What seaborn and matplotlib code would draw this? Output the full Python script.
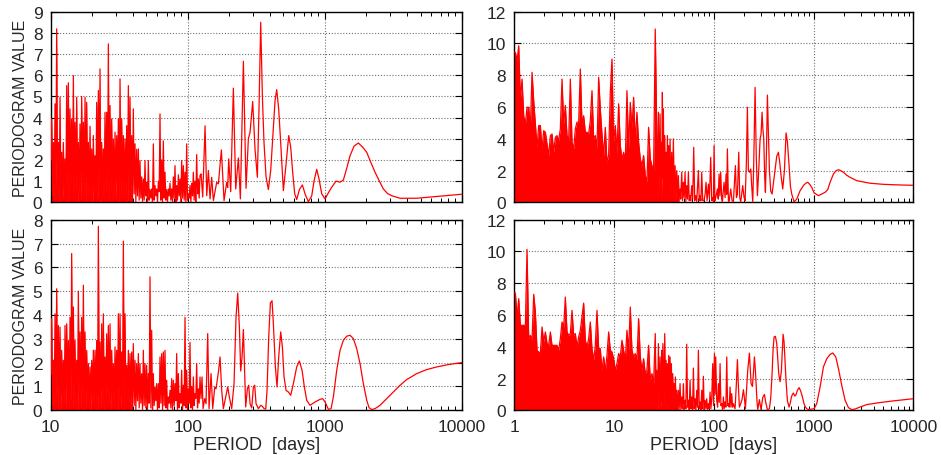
import matplotlib
matplotlib.use("Agg")
import matplotlib.pyplot as plt
import seaborn as sns
from matplotlib.ticker import FixedLocator, NullFormatter, LogLocator

# ---------------- data ----------------
# shared period grid for the dense part of the left panels (days)
left_dense_period = [
    10.02, 10.16, 10.31, 10.45, 10.60, 10.75, 10.90, 11.05, 11.21, 11.37,
    11.53, 11.69, 11.86, 12.02, 12.19, 12.36, 12.54, 12.72, 12.89, 13.08,
    13.26, 13.45, 13.64, 13.83, 14.02, 14.22, 14.42, 14.63, 14.83, 15.04,
    15.25, 15.47, 15.69, 15.91, 16.13, 16.36, 16.59, 16.82, 17.06, 17.31,
    17.55, 17.80, 18.05, 18.30, 18.56, 18.82, 19.09, 19.36, 19.63, 19.91,
    20.19, 20.47, 20.76, 21.05, 21.35, 21.65, 21.96, 22.27, 22.58, 22.90,
    23.22, 23.55, 23.88, 24.22, 24.56, 24.90, 25.25, 25.61, 25.97, 26.34,
    26.71, 27.09, 27.47, 27.86, 28.25, 28.65, 29.05, 29.46, 29.87, 30.30,
    30.73, 31.16, 31.60, 32.05, 32.50, 32.96, 33.42, 33.89, 34.37, 34.86,
    35.35, 35.85, 36.35, 36.86, 37.38, 37.91, 38.44, 38.99, 39.53, 40.09,
    40.66, 41.23, 41.81, 42.40, 43.00, 43.61, 44.22, 44.84, 45.48, 46.12,
    46.77, 47.43, 48.10, 48.77, 49.46, 50.16, 50.86, 51.58, 52.31, 53.06,
    53.81, 54.57, 55.33, 56.11, 56.90, 57.71, 58.52, 59.35, 60.18, 61.03,
    61.89, 62.76, 63.65, 64.55, 65.46, 66.38, 67.31, 68.26, 69.23, 70.20,
    71.19, 72.20, 73.21, 74.25, 75.29, 76.35, 77.43, 78.52, 79.63, 80.75,
    81.89, 83.04, 84.21, 85.40, 86.61, 87.83, 89.07, 90.32, 91.59, 92.90,
    94.21, 95.54, 96.89, 98.26, 99.64, 101.0, 102.5, 103.9, 105.4, 106.9,
    108.4, 109.9, 111.4, 113.0, 114.6, 116.2, 117.9, 119.5, 121.2, 122.9,
]

tl_dense_trough = [
    2.0, 0.3, 0.1, 0.5, 0.2, 0.0, 0.4, 0.1, 0.6, 0.2,
    0.0, 0.3, 0.8, 0.1, 0.2, 0.5, 0.0, 0.3, 0.1, 0.7,
    0.2, 0.0, 0.4, 0.1, 0.3, 0.0, 0.5, 0.2, 0.1, 0.6,
    0.0, 0.3, 0.2, 0.4, 0.1, 0.0, 0.5, 0.2, 0.3, 0.1,
    0.8, 0.0, 0.2, 0.4, 0.1, 0.3, 0.0, 0.6, 0.2, 0.1,
    0.4, 0.0, 0.3, 0.1, 0.2, 0.0, 0.1, 0.3, 0.0, 0.1,
    0.2, 0.0, 0.1, 0.3, 0.0, 0.5, 0.1, 0.0, 0.2, 0.1,
    0.0, 0.3, 0.1, 0.0, 0.2, 0.0, 0.1, 0.3, 0.0, 0.2,
    0.1, 0.0, 0.1, 0.2, 0.0, 0.3, 0.1, 0.0, 0.4, 0.2,
]
tl_dense_peak = [
    3.94, 2.83, 4.65, 8.19, 2.83, 4.96, 2.36, 2.83, 2.05, 5.51,
    5.64, 4.41, 3.94, 5.98, 3.78, 4.96, 2.83, 3.70, 5.00, 3.78,
    4.96, 4.72, 2.83, 3.59, 2.52, 3.15, 2.20, 4.72, 5.28, 6.30,
    2.83, 2.52, 4.25, 4.25, 7.48, 4.57, 3.94, 2.99, 3.31, 3.15,
    3.94, 5.83, 3.94, 3.15, 3.00, 3.62, 5.51, 4.96, 3.15, 4.41,
    2.76, 2.50, 2.52, 1.97, 1.20, 1.10, 1.97, 0.94, 1.97, 0.60,
    0.63, 2.76, 0.79, 0.63, 1.00, 4.17, 2.00, 2.90, 1.42, 0.60,
    0.63, 0.90, 0.63, 1.20, 1.73, 0.79, 1.30, 1.10, 1.97, 1.73,
    1.42, 2.76, 0.39, 0.80, 0.90, 1.42, 1.00, 2.25, 1.10, 1.26,
]
tl_tail_period = [
    125.1, 128.6, 133.8, 137.6, 141.5, 145.5, 149.6, 153.9, 162.7, 167.4,
    176.0, 184.1, 192.5, 195.8, 199.1, 205.9, 215.3, 224.0, 234.2, 242.2,
    254.8, 266.4, 277.1, 285.0, 298.0, 309.9, 322.3, 331.5, 340.9, 350.6,
    360.5, 372.9, 387.8, 403.3, 421.8, 433.8, 446.1, 461.3, 477.1, 499.0,
    521.9, 545.8, 564.4, 583.7, 603.6, 624.2, 652.9, 686.7, 722.2, 759.6,
    803.3, 835.4, 873.7, 908.6, 950.3, 1005, 1063, 1124, 1209, 1293,
    1368, 1446, 1530, 1636, 1760, 1893, 2025, 2165, 2329, 2505,
    2679, 2865, 3081, 3545, 4690, 6207, 10000,
]
tl_tail_power = [
    1.34, 0.25, 3.61, 0.31, 1.50, 0.16, 1.18, 0.08, 0.94, 0.87,
    2.47, 0.08, 0.94, 0.70, 2.05, 0.50, 5.39, 0.63, 2.09, 0.16,
    6.66, 0.66, 3.00, 3.31, 4.76, 2.50, 1.18, 4.50, 8.50, 5.00,
    2.80, 1.20, 0.60, 1.50, 3.50, 4.80, 5.32, 4.40, 2.80, 0.55,
    1.80, 3.15, 2.60, 1.40, 0.40, 0.13, 0.60, 0.82, 0.35, 0.03,
    0.30, 1.00, 1.56, 1.10, 0.40, 0.16, 0.45, 0.71, 1.00, 0.95,
    1.05, 1.60, 2.20, 2.65, 2.80, 2.60, 2.36, 1.90, 1.42, 1.00,
    0.63, 0.42, 0.31, 0.19, 0.19, 0.26, 0.38,
]

bl_dense_trough = [
    1.5, 0.2, 0.0, 0.4, 0.1, 0.3, 0.0, 0.5, 0.2, 0.1,
    0.6, 0.0, 0.3, 0.1, 0.4, 0.2, 0.0, 0.7, 0.1, 0.3,
    0.0, 0.2, 0.5, 0.1, 0.0, 0.4, 0.2, 0.3, 0.0, 0.6,
    0.1, 0.2, 0.0, 0.5, 0.3, 0.1, 0.0, 0.4, 0.2, 0.6,
    0.0, 0.3, 0.1, 0.5, 0.0, 0.2, 0.4, 0.1, 0.0, 0.3,
    0.2, 0.0, 0.4, 0.1, 0.3, 0.0, 0.2, 0.1, 0.0, 0.3,
    0.1, 0.0, 0.2, 0.4, 0.0, 0.1, 0.3, 0.0, 0.2, 0.1,
    0.0, 0.3, 0.1, 0.0, 0.2, 0.4, 0.0, 0.1, 0.3, 0.0,
    0.2, 0.1, 0.0, 0.3, 0.1, 0.0, 0.2, 0.5, 0.1, 0.3,
]
bl_dense_peak = [
    3.85, 2.10, 4.05, 5.10, 3.56, 3.49, 2.52, 2.10, 3.56, 3.63,
    2.93, 3.90, 6.58, 4.34, 2.93, 2.10, 5.00, 3.29, 3.90, 5.25,
    3.29, 2.52, 1.96, 1.82, 2.10, 2.52, 2.52, 2.93, 7.72, 2.87,
    3.63, 4.05, 2.24, 3.21, 3.56, 3.63, 2.52, 1.96, 2.66, 2.52,
    4.05, 4.05, 2.45, 7.10, 4.05, 1.89, 2.52, 2.38, 2.45, 2.80,
    2.10, 1.96, 2.38, 1.96, 1.54, 2.52, 1.96, 1.89, 1.54, 5.60,
    3.36, 1.54, 0.98, 1.12, 1.12, 2.24, 2.38, 2.45, 2.52, 1.26,
    0.56, 0.84, 1.33, 1.26, 1.12, 2.38, 1.54, 0.70, 1.68, 1.05,
    3.90, 1.68, 0.90, 2.85, 1.00, 1.40, 0.70, 1.96, 0.90, 1.40,
]
bl_tail_period = [
    125.1, 127.2, 129.4, 133.0, 136.0, 139.9, 143.1, 148.0, 152.2, 157.4,
    160.9, 164.6, 168.3, 172.1, 177.0, 182.0, 189.3, 195.8, 201.3, 209.4,
    217.8, 225.2, 231.6, 238.2, 243.6, 249.1, 254.8, 260.5, 264.9, 272.5,
    278.7, 285.0, 293.1, 301.4, 308.2, 315.2, 327.8, 340.9, 350.6, 360.5,
    370.8, 379.2, 390.0, 401.1, 412.4, 421.8, 436.2, 448.6, 461.3, 477.1,
    490.7, 504.6, 521.8, 542.7, 564.4, 590.3, 624.2, 652.9, 682.9, 710.2,
    738.6, 781.1, 849.6, 924.0, 966.4, 1005, 1063, 1112, 1156, 1223,
    1293, 1368, 1446, 1530, 1618, 1711, 1810, 1914, 2025, 2106,
    2202, 2329, 2533, 2833, 3169, 3545, 3965, 4690, 5549, 6565,
    7986, 10000,
]
bl_tail_power = [
    0.49, 1.40, 0.07, 0.49, 0.28, 3.22, 0.07, 1.54, 0.07, 0.98,
    0.90, 1.30, 1.70, 2.24, 0.84, 0.07, 0.56, 0.98, 0.56, 0.07,
    1.12, 3.91, 4.92, 3.50, 1.65, 2.24, 3.39, 1.53, 0.14, 0.91,
    1.05, 0.28, 0.10, 0.98, 1.05, 0.28, 0.07, 0.21, 0.17, 0.07,
    0.05, 0.84, 3.07, 4.50, 4.60, 3.64, 1.82, 0.98, 2.24, 3.29,
    2.66, 1.40, 0.84, 0.77, 0.63, 1.12, 1.82, 2.07, 1.68, 0.98,
    0.42, 0.21, 0.35, 0.46, 0.49, 0.35, 0.04, 0.07, 0.56, 1.68,
    2.51, 2.94, 3.11, 3.15, 3.01, 2.59, 1.96, 1.12, 0.42, 0.11,
    0.03, 0.07, 0.21, 0.49, 0.77, 1.05, 1.29, 1.54, 1.71, 1.82,
    1.92, 2.00,
]

# shared period grid for the (unresolved, solid) dense part of the right panels
right_env_period = [
    1.000, 1.024, 1.064, 1.106, 1.149, 1.194, 1.241, 1.290, 1.340, 1.393,
    1.447, 1.504, 1.563, 1.624, 1.688, 1.754, 1.823, 1.894, 1.969, 2.046,
    2.126, 2.209, 2.296, 2.386, 2.479, 2.576, 2.677, 2.782, 2.891, 3.005,
    3.122, 3.245, 3.372, 3.504, 3.641, 3.784, 3.932, 4.086, 4.246, 4.413,
    4.586, 4.765, 4.952, 5.146, 5.348, 5.557, 5.775, 6.001, 6.237, 6.481,
    6.735, 6.999, 7.273, 7.558, 7.855, 8.163, 8.482, 8.815, 9.160, 9.519,
    9.892, 10.28, 10.68, 11.10, 11.54, 11.99, 12.46, 12.95, 13.45, 13.98,
    14.53, 15.10, 15.69, 16.30, 16.94, 17.61, 18.30, 19.01, 19.76, 20.53,
    21.34, 22.17, 23.04, 23.95, 24.88, 25.86,
]
tr_env_power = [
    9.44, 9.44, 8.92, 9.86, 6.50, 7.76, 5.45, 4.93, 5.98, 5.98,
    4.62, 8.18, 6.40, 4.93, 3.46, 4.83, 4.83, 3.36, 4.51, 4.41,
    3.67, 2.94, 4.20, 4.30, 3.15, 4.09, 4.20, 3.88, 4.62, 7.76,
    4.93, 6.10, 4.20, 3.88, 7.76, 3.78, 3.36, 4.62, 5.04, 5.04,
    8.39, 4.93, 5.45, 4.41, 4.41, 4.30, 5.14, 7.03, 3.99, 4.20,
    3.36, 7.87, 5.88, 4.30, 2.94, 4.72, 2.52, 2.94, 6.92, 9.02,
    3.78, 4.83, 3.00, 6.20, 3.57, 2.73, 3.15, 2.52, 7.03, 3.36,
    6.29, 4.62, 6.61, 3.78, 5.67, 3.78, 2.73, 2.31, 2.94, 1.68,
    1.26, 4.72, 2.73, 2.31, 1.99, 10.91,
]
br_env_power = [
    7.39, 7.39, 5.88, 7.03, 5.35, 5.35, 5.35, 5.35, 10.13, 4.51,
    4.72, 4.41, 7.30, 6.19, 3.78, 3.67, 3.60, 5.25, 4.30, 4.93,
    4.20, 4.09, 4.93, 4.09, 4.09, 4.09, 4.09, 3.78, 4.51, 5.56,
    5.25, 7.13, 4.93, 4.72, 4.83, 6.29, 4.72, 4.83, 3.99, 4.62,
    5.04, 5.88, 6.75, 4.41, 3.99, 4.51, 5.56, 3.88, 3.15, 4.09,
    6.29, 3.88, 3.88, 2.52, 3.36, 2.52, 3.46, 4.93, 3.78, 3.67,
    3.25, 2.52, 2.94, 3.57, 3.36, 4.41, 3.78, 3.15, 5.04, 3.78,
    6.50, 3.78, 3.36, 3.57, 3.15, 5.77, 3.36, 2.52, 3.25, 2.31,
    2.52, 4.09, 1.89, 2.31, 1.68, 4.83,
]

tr_tail_period = [
    27.37, 27.80, 28.23, 28.89, 29.33, 29.56, 30.02, 30.48, 30.84, 31.20,
    31.68, 32.17, 32.67, 33.18, 33.69, 34.22, 34.75, 35.29, 35.83, 36.39,
    36.95, 37.82, 38.40, 39.30, 39.91, 40.84, 41.47, 42.44, 43.09, 44.11,
    44.78, 45.84, 46.54, 47.64, 48.56, 49.51, 50.47, 51.45, 52.45, 53.47,
    54.52, 55.57, 56.65, 57.75, 58.65, 60.02, 61.42, 62.85, 64.32, 65.80,
    67.36, 70.00, 71.36, 72.75, 74.16, 75.60, 77.37, 79.79, 81.65, 83.55,
    85.50, 88.18, 90.24, 93.04, 95.24, 97.44, 98.98, 100.5, 102.4, 104.4,
    108.6, 110.7, 112.8, 115.0, 117.2, 120.0, 121.8, 126.6, 129.6, 132.6,
    134.7, 136.7, 140.0, 142.1, 147.7, 152.3, 157.1, 164.5, 168.4, 172.3,
    177.7, 181.8, 186.0, 194.8, 200.9, 205.6, 212.0, 216.9, 222.1, 227.3,
    234.4, 239.8, 245.5, 251.2, 259.1, 266.1, 273.4, 281.9, 290.7, 297.5,
    304.4, 310.4, 316.5, 323.8, 328.9, 336.5, 344.4, 352.4, 360.7, 372.0,
    383.6, 395.6, 411.1, 427.2, 444.0, 457.7, 472.0, 490.7, 509.9, 529.9,
    546.5, 567.9, 585.7, 604.0, 637.3, 677.9, 732.2, 790.8, 834.6, 873.9,
    922.4, 958.5, 1011, 1059, 1118, 1208, 1304, 1387, 1464, 1581,
    1682, 1775, 1873, 1992, 2151, 2323, 2710, 3160, 3686, 5015,
    7369, 10000,
]
tr_tail_power = [
    0.3, 5.67, 0.5, 5.56, 1.0, 3.78, 0.2, 6.92, 1.5, 5.88,
    0.3, 4.20, 0.2, 3.15, 0.4, 4.20, 0.1, 3.57, 0.3, 3.99,
    0.5, 3.15, 0.1, 3.99, 0.3, 2.31, 0.2, 1.99, 0.3, 1.68,
    0.1, 0.84, 0.2, 1.89, 0.1, 1.26, 0.3, 1.89, 0.05, 1.05,
    0.2, 1.89, 0.1, 0.42, 0.1, 1.05, 0.2, 3.46, 0.1, 0.42,
    0.05, 2.0, 0.1, 0.42, 0.1, 1.89, 0.1, 0.1, 0.5, 1.26,
    0.1, 1.15, 0.2, 2.83, 0.1, 0.3, 0.05, 3.57, 0.1, 0.3,
    0.84, 0.2, 1.78, 0.4, 1.89, 0.2, 0.05, 1.26, 0.3, 1.78,
    0.5, 3.36, 0.1, 0.05, 0.84, 0.1, 0.05, 2.31, 0.3, 0.5,
    3.15, 0.3, 0.02, 1.05, 0.3, 0.1, 2.5, 5.98, 2.0, 1.89,
    2.1, 1.0, 0.02, 2.5, 7.24, 3.0, 0.42, 2.0, 3.99, 4.3,
    5.67, 4.6, 3.99, 1.5, 0.63, 3.0, 6.75, 4.5, 2.0, 0.7,
    0.52, 1.2, 2.1, 2.9, 3.15, 2.5, 1.68, 0.84, 2.0, 4.37,
    3.8, 2.31, 1.0, 0.52, 0.03, 0.2, 0.73, 1.05, 1.2, 1.26,
    1.1, 0.94, 0.6, 0.52, 0.42, 0.52, 0.63, 0.8, 1.26, 1.78,
    1.99, 2.05, 1.99, 1.89, 1.70, 1.57, 1.36, 1.28, 1.2, 1.13,
    1.09, 1.07,
]

br_tail_period = [
    26.44, 26.75, 27.27, 27.80, 28.34, 28.89, 29.45, 30.02, 30.36, 30.84,
    31.44, 32.17, 32.67, 33.18, 33.69, 34.22, 34.75, 35.29, 35.83, 36.39,
    36.95, 37.52, 38.11, 38.70, 39.30, 39.91, 40.53, 41.15, 41.79, 42.44,
    43.27, 44.11, 44.96, 45.84, 46.73, 47.64, 48.56, 49.51, 50.47, 51.45,
    52.45, 53.47, 54.52, 55.57, 56.65, 57.75, 58.87, 60.02, 61.18, 62.37,
    63.58, 64.82, 66.05, 67.36, 68.67, 70.00, 71.36, 72.75, 74.16, 75.60,
    77.07, 78.57, 80.09, 81.65, 83.24, 84.86, 86.50, 88.18, 89.90, 91.64,
    93.43, 95.24, 97.44, 99.33, 101.3, 102.9, 104.4, 106.9, 109.0, 111.1,
    113.3, 115.5, 117.7, 120.0, 122.3, 124.7, 127.1, 129.6, 132.1, 134.7,
    137.3, 140.0, 142.7, 145.4, 148.3, 151.1, 154.1, 157.1, 163.2, 167.7,
    172.3, 176.3, 180.4, 186.0, 191.9, 197.9, 202.4, 207.2, 213.7, 218.6,
    227.3, 232.6, 236.2, 243.6, 249.3, 255.1, 261.0, 265.1, 271.3, 275.5,
    281.9, 286.3, 290.7, 297.5, 309.1, 321.4, 331.4, 344.4, 360.7, 372.0,
    383.6, 392.5, 401.7, 414.2, 427.2, 437.1, 447.3, 461.4, 475.7, 486.9,
    494.5, 506.0, 517.8, 529.9, 546.5, 567.9, 585.7, 599.3, 613.4, 627.7,
    647.4, 662.2, 688.5, 715.6, 743.6, 772.8, 803.1, 828.2, 860.6, 894.4,
    965.8, 1011, 1076, 1162, 1255, 1355, 1464, 1557, 1669, 1775,
    1916, 2070, 2235, 2414, 2607, 2926, 3413, 4300, 5850, 10000,
]
br_tail_power = [
    0.2, 2.52, 0.1, 4.20, 0.3, 3.36, 0.0, 3.78, 0.5, 4.20,
    0.1, 4.83, 0.2, 3.15, 0.1, 2.94, 0.3, 3.46, 0.0, 3.36,
    0.2, 2.94, 0.1, 2.31, 0.0, 1.68, 0.2, 2.10, 0.1, 1.26,
    0.0, 1.26, 0.2, 1.68, 0.0, 0.84, 0.1, 1.68, 0.0, 0.63,
    0.1, 4.16, 0.2, 0.63, 0.0, 1.89, 0.1, 0.84, 0.0, 2.66,
    0.1, 0.73, 0.0, 1.26, 0.2, 3.78, 0.1, 0.52, 0.0, 1.26,
    0.1, 2.14, 0.0, 0.63, 0.1, 0.73, 0.0, 0.42, 0.1, 1.15,
    0.1, 0.73, 2.94, 0.3, 3.57, 1.0, 3.36, 0.63, 0.2, 1.68,
    0.5, 2.94, 0.3, 0.42, 0.0, 0.84, 0.1, 0.52, 0.2, 3.36,
    0.3, 0.42, 0.2, 1.47, 0.2, 1.05, 0.2, 0.42, 0.10, 1.5,
    3.19, 1.5, 0.2, 0.42, 0.7, 1.30, 0.8, 0.10, 1.5, 2.5,
    3.60, 2.5, 1.68, 1.5, 2.3, 3.36, 2.5, 1.68, 0.5, 0.05,
    0.4, 0.67, 0.4, 0.05, 0.8, 1.0, 0.5, 0.04, 0.1, 0.8,
    2.31, 3.8, 4.62, 4.66, 4.2, 3.2, 2.3, 1.8, 2.5, 3.8,
    4.79, 4.3, 3.0, 1.8, 0.6, 0.2, 0.5, 0.84, 1.0, 1.09,
    0.9, 0.94, 1.26, 1.43, 1.2, 0.84, 0.4, 0.2, 0.08, 0.05,
    0.08, 0.10, 0.42, 1.47, 2.73, 3.25, 3.52, 3.61, 3.36, 2.63,
    1.57, 0.63, 0.17, 0.04, 0.08, 0.21, 0.36, 0.46, 0.57, 0.73,
]

left_ticks = [10, 100, 1000, 10000]
right_ticks = [1, 10, 100, 1000, 10000]
# periods below which the periodogram is too dense to resolve (drawn solid)
left_fill_limit = 40.0
right_fill_limit = 45.0

# ---------------- style ----------------
sns.set_style("ticks")
plt.rcParams["font.family"] = ["Liberation Sans", "DejaVu Sans"]
RED = "#ff0000"


def interleave(a, b):
    out = []
    for u, v in zip(a, b):
        out.extend([u, v])
    return out


def draw_series(ax, period, power, fill_limit):
    assert len(period) == len(power)
    fp = [p for p in period if p <= fill_limit]
    fv = [v for p, v in zip(period, power) if p <= fill_limit]
    ax.fill_between(fp, 0, fv, color=RED, linewidth=0, zorder=2)
    sns.lineplot(x=period, y=power, ax=ax, color=RED, linewidth=0.9,
                 estimator=None, sort=False, zorder=3)


def style(ax, xmin, ticks, ymax, ystep, show_xlabels, show_ylabel):
    ax.set_xscale("log")
    ax.set_xlim(xmin, 10000)
    ax.set_ylim(0, ymax)
    ax.set_yticks(list(range(0, ymax + 1, ystep)))
    ax.xaxis.set_major_locator(FixedLocator(ticks))
    ax.xaxis.set_minor_locator(LogLocator(base=10, subs=range(2, 10), numticks=20))
    ax.xaxis.set_minor_formatter(NullFormatter())
    if show_xlabels:
        ax.set_xticklabels([str(t) for t in ticks])
        ax.set_xlabel("PERIOD  [days]", fontsize=13, labelpad=2)
    else:
        ax.set_xticklabels([])
        ax.set_xlabel("")
    if show_ylabel:
        ax.set_ylabel("PERIODOGRAM VALUE", fontsize=11.5, labelpad=3)
    else:
        ax.set_ylabel("")
    ax.grid(True, which="major", linestyle=(0, (1, 1.6)), color="#707070",
            linewidth=0.8, zorder=1)
    ax.set_axisbelow(True)
    ax.tick_params(which="both", direction="in", top=True, right=True,
                   labelsize=12.5, color="black")
    ax.tick_params(which="major", length=5, width=0.8)
    ax.tick_params(which="minor", length=3, width=0.7)
    ax.tick_params(axis="x", pad=6)
    ax.tick_params(axis="y", pad=6)
    for s in ax.spines.values():
        s.set_visible(True)
        s.set_color("black")
        s.set_linewidth(1.0)


fig = plt.figure(figsize=(9.41, 4.56), dpi=100)
ax_tl = fig.add_axes([0.0539, 0.5542, 0.4368, 0.4179])
ax_tr = fig.add_axes([0.5466, 0.5542, 0.4240, 0.4179])
ax_bl = fig.add_axes([0.0539, 0.0980, 0.4368, 0.4180])
ax_br = fig.add_axes([0.5466, 0.0980, 0.4240, 0.4180])

# left panels: zig-zag dense part + smooth long-period tail
for ax, trough, peak, tp, tv in [
    (ax_tl, tl_dense_trough, tl_dense_peak, tl_tail_period, tl_tail_power),
    (ax_bl, bl_dense_trough, bl_dense_peak, bl_tail_period, bl_tail_power),
]:
    dense_power = interleave(trough, peak)
    draw_series(ax, left_dense_period + tp, dense_power + tv, left_fill_limit)

# right panels: unresolved dense band envelope + zig-zag + tail
for ax, env, tp, tv in [
    (ax_tr, tr_env_power, tr_tail_period, tr_tail_power),
    (ax_br, br_env_power, br_tail_period, br_tail_power),
]:
    draw_series(ax, right_env_period + tp, env + tv, right_fill_limit)

style(ax_tl, 10, left_ticks, 9, 1, False, True)
style(ax_tr, 1, right_ticks, 12, 2, False, False)
style(ax_bl, 10, left_ticks, 8, 1, True, True)
style(ax_br, 1, right_ticks, 12, 2, True, False)

fig.savefig("out.png", dpi=100)
